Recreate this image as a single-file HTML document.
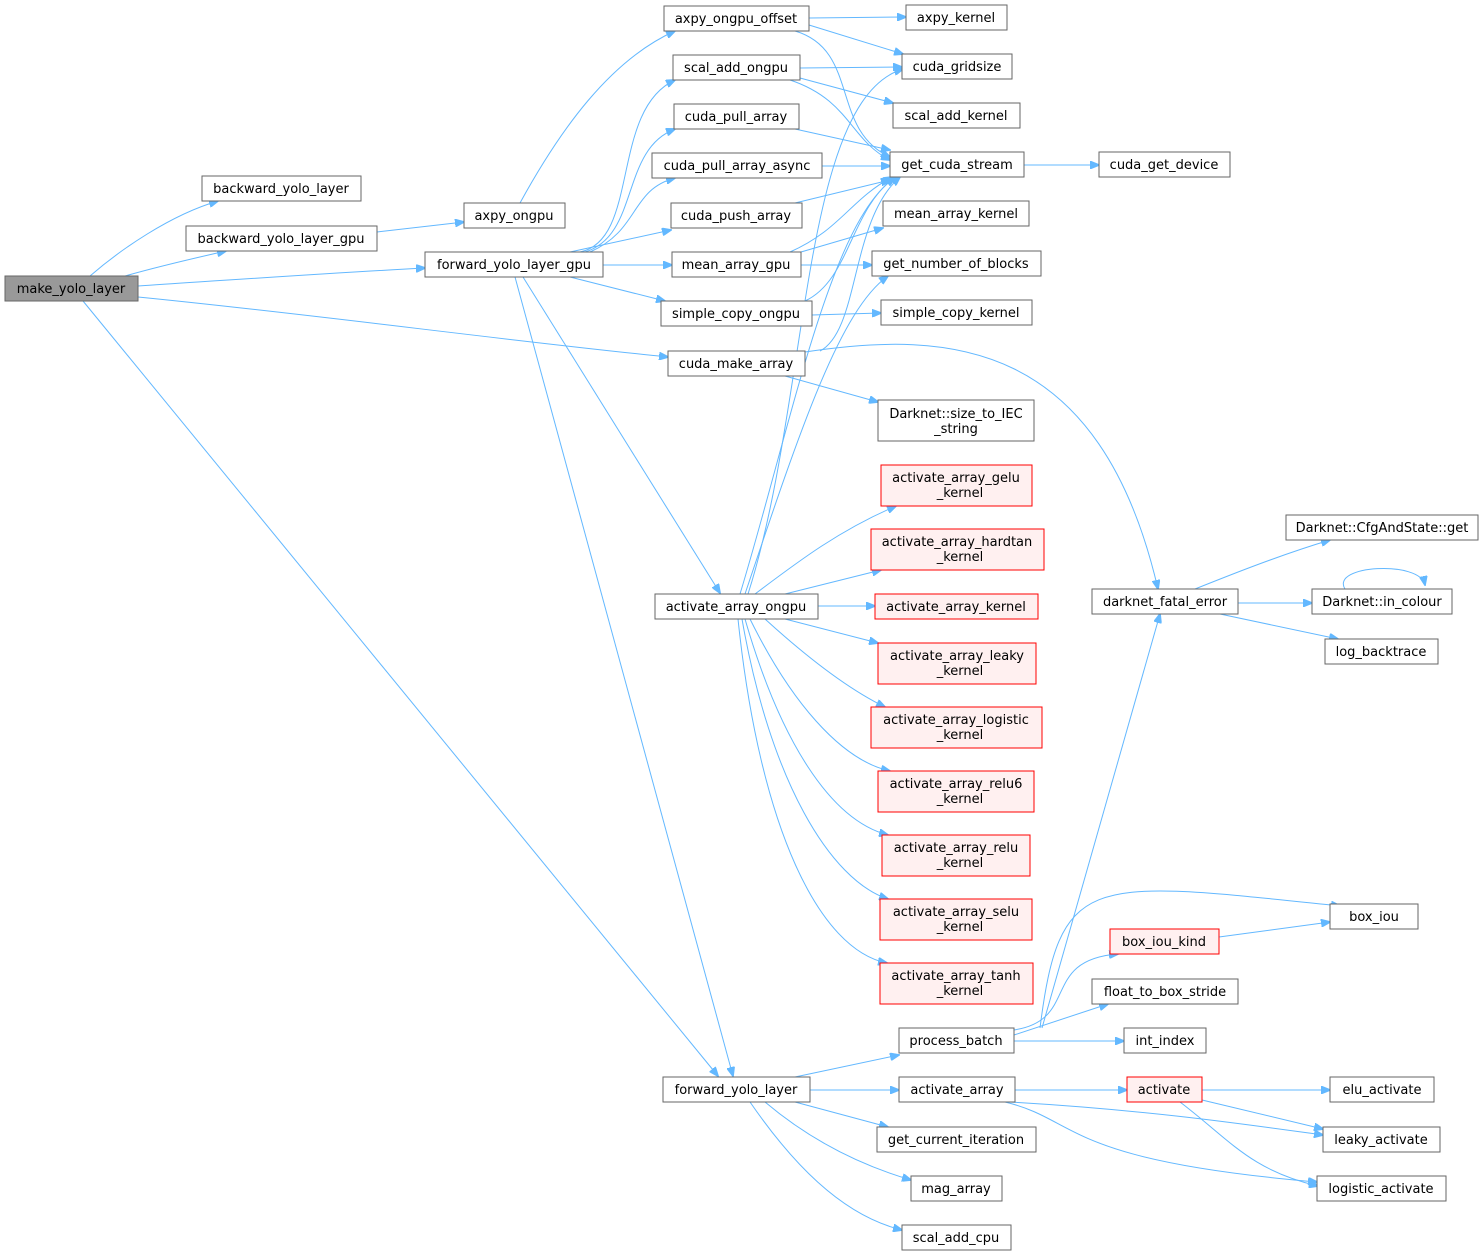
<!DOCTYPE html>
<html><head><meta charset="utf-8"><style>
html,body{margin:0;padding:0;background:#fff}
svg{display:block}
text{font-family:"DejaVu Sans","Liberation Sans",sans-serif;font-size:13px;fill:#000;text-anchor:middle}
.n rect{fill:#fff;stroke:#666;stroke-width:1}
.r rect{fill:#fff0f0;stroke:#f00}
.e{fill:none;stroke:#63b8ff;stroke-width:1;marker-end:url(#a)}
</style></head><body>
<svg width="1484" height="1257" viewBox="0 0 1484 1257" xmlns="http://www.w3.org/2000/svg">
<defs><marker id="a" markerWidth="10" markerHeight="8" refX="9" refY="4" orient="auto" markerUnits="userSpaceOnUse"><path d="M0,0 L10,4 L0,8 z" fill="#63b8ff" stroke="#63b8ff"/></marker></defs>
<g>
<path class="e" d="M90,276 C120,250 170,215 218,201"/>
<path class="e" d="M125,276 C160,266 195,258 226,251"/>
<path class="e" d="M138,286 C230,280 330,273 425,268"/>
<path class="e" d="M138,297 C320,315 500,340 668,357"/>
<path class="e" d="M83,301 L718,1076"/>
<path class="e" d="M377,232 L464,222"/>
<path class="e" d="M520,203 C560,130 610,60 675,31"/>
<path class="e" d="M580,252 C640,240 610,110 675,80"/>
<path class="e" d="M585,252 C640,235 620,150 675,129"/>
<path class="e" d="M590,252 C640,230 630,190 675,178"/>
<path class="e" d="M570,252 L671,230"/>
<path class="e" d="M603,265 L672,265"/>
<path class="e" d="M570,277 L665,301"/>
<path class="e" d="M523,277 L720,593"/>
<path class="e" d="M515,277 L733,1076"/>
<path class="e" d="M809,18 L906,17"/>
<path class="e" d="M809,25 L903,54"/>
<path class="e" d="M795,31 C860,50 830,130 890,157"/>
<path class="e" d="M800,68 L902,67"/>
<path class="e" d="M800,78 L893,103"/>
<path class="e" d="M790,80 C850,100 850,140 890,160"/>
<path class="e" d="M795,129 L890,150"/>
<path class="e" d="M822,166 L890,166"/>
<path class="e" d="M795,203 L890,180"/>
<path class="e" d="M801,252 L883,228"/>
<path class="e" d="M801,265 L872,265"/>
<path class="e" d="M790,252 C840,230 850,200 892,177"/>
<path class="e" d="M812,315 L881,313"/>
<path class="e" d="M805,301 C850,280 850,210 895,177"/>
<path class="e" d="M820,351 C860,330 850,220 900,177"/>
<path class="e" d="M805,352 C950,330 1100,340 1158,589"/>
<path class="e" d="M785,376 L878,402"/>
<path class="e" d="M1024,165 L1099,165"/>
<path class="e" d="M755,594 C800,560 840,530 896,506"/>
<path class="e" d="M785,594 L881,570"/>
<path class="e" d="M818,606 L875,606"/>
<path class="e" d="M785,619 L878,643"/>
<path class="e" d="M765,619 C810,660 850,690 885,707"/>
<path class="e" d="M750,619 C790,700 840,760 890,771"/>
<path class="e" d="M745,619 C780,740 830,820 888,835"/>
<path class="e" d="M742,619 C770,780 830,880 888,899"/>
<path class="e" d="M738,619 C760,830 820,950 887,963"/>
<path class="e" d="M740,594 C790,430 830,220 895,178"/>
<path class="e" d="M745,594 C800,430 840,310 888,276"/>
<path class="e" d="M748,594 C810,400 800,100 903,69"/>
<path class="e" d="M1195,589 C1230,575 1280,555 1330,540"/>
<path class="e" d="M1238,603 L1312,603"/>
<path class="e" d="M1220,614 L1338,639"/>
<path class="e" d="M1345,589 C1330,565 1420,560 1425,585"/>
<path class="e" d="M795,1077 L899,1055"/>
<path class="e" d="M810,1090 L899,1090"/>
<path class="e" d="M795,1102 L888,1127"/>
<path class="e" d="M765,1102 C810,1140 860,1165 911,1180"/>
<path class="e" d="M750,1102 C790,1160 840,1215 902,1230"/>
<path class="e" d="M1014,1030 C1080,1020 1040,960 1118,954"/>
<path class="e" d="M1040,1028 C1060,870 1090,880 1340,906"/>
<path class="e" d="M1014,1035 L1108,1004"/>
<path class="e" d="M1014,1041 L1124,1041"/>
<path class="e" d="M1042,1028 L1160,614"/>
<path class="e" d="M1219,937 L1330,922"/>
<path class="e" d="M1015,1090 L1127,1090"/>
<path class="e" d="M1010,1102 C1150,1110 1250,1125 1323,1135"/>
<path class="e" d="M1005,1102 C1080,1120 1060,1160 1317,1182"/>
<path class="e" d="M1202,1090 L1330,1090"/>
<path class="e" d="M1202,1100 L1323,1129"/>
<path class="e" d="M1180,1102 C1230,1140 1250,1170 1318,1186"/>
</g>
<g class="n">
<rect x="5" y="276" width="133" height="25" style="fill:#999"/><text x="71" y="293">make_yolo_layer</text>
<rect x="202" y="176" width="159" height="25"/><text x="281" y="193">backward_yolo_layer</text>
<rect x="186" y="226" width="191" height="25"/><text x="281" y="243">backward_yolo_layer_gpu</text>
<rect x="425" y="252" width="178" height="25"/><text x="514" y="269">forward_yolo_layer_gpu</text>
<rect x="464" y="203" width="101" height="25"/><text x="514" y="220">axpy_ongpu</text>
<rect x="664" y="6" width="145" height="25"/><text x="736" y="23">axpy_ongpu_offset</text>
<rect x="673" y="55" width="127" height="25"/><text x="736" y="72">scal_add_ongpu</text>
<rect x="674" y="104" width="125" height="25"/><text x="736" y="121">cuda_pull_array</text>
<rect x="652" y="153" width="170" height="25"/><text x="737" y="170">cuda_pull_array_async</text>
<rect x="671" y="203" width="131" height="25"/><text x="736" y="220">cuda_push_array</text>
<rect x="672" y="252" width="129" height="25"/><text x="736" y="269">mean_array_gpu</text>
<rect x="661" y="301" width="151" height="25"/><text x="736" y="318">simple_copy_ongpu</text>
<rect x="668" y="351" width="137" height="25"/><text x="736" y="368">cuda_make_array</text>
<rect x="655" y="594" width="163" height="25"/><text x="736" y="611">activate_array_ongpu</text>
<rect x="663" y="1077" width="147" height="25"/><text x="736" y="1094">forward_yolo_layer</text>
<rect x="906" y="5" width="101" height="25"/><text x="956" y="22">axpy_kernel</text>
<rect x="902" y="54" width="110" height="25"/><text x="957" y="71">cuda_gridsize</text>
<rect x="893" y="103" width="127" height="25"/><text x="956" y="120">scal_add_kernel</text>
<rect x="890" y="152" width="134" height="25"/><text x="957" y="169">get_cuda_stream</text>
<rect x="1099" y="152" width="131" height="25"/><text x="1164" y="169">cuda_get_device</text>
<rect x="883" y="201" width="146" height="25"/><text x="956" y="218">mean_array_kernel</text>
<rect x="872" y="251" width="169" height="25"/><text x="956" y="268">get_number_of_blocks</text>
<rect x="881" y="300" width="151" height="25"/><text x="956" y="317">simple_copy_kernel</text>
<rect x="878" y="400" width="156" height="41"/><text x="956" y="418">Darknet::size_to_IEC</text><text x="956" y="433">_string</text>
<rect x="1092" y="589" width="146" height="25"/><text x="1165" y="606">darknet_fatal_error</text>
<rect x="1286" y="515" width="192" height="25"/><text x="1382" y="532">Darknet::CfgAndState::get</text>
<rect x="1312" y="589" width="140" height="25"/><text x="1382" y="606">Darknet::in_colour</text>
<rect x="1325" y="639" width="113" height="25"/><text x="1381" y="656">log_backtrace</text>
<rect x="1330" y="904" width="88" height="25"/><text x="1374" y="921">box_iou</text>
<rect x="1092" y="979" width="146" height="25"/><text x="1165" y="996">float_to_box_stride</text>
<rect x="1124" y="1028" width="82" height="25"/><text x="1165" y="1045">int_index</text>
<rect x="899" y="1028" width="115" height="25"/><text x="956" y="1045">process_batch</text>
<rect x="899" y="1077" width="116" height="25"/><text x="957" y="1094">activate_array</text>
<rect x="877" y="1127" width="159" height="25"/><text x="956" y="1144">get_current_iteration</text>
<rect x="911" y="1176" width="91" height="25"/><text x="956" y="1193">mag_array</text>
<rect x="902" y="1225" width="109" height="25"/><text x="956" y="1242">scal_add_cpu</text>
<rect x="1330" y="1077" width="104" height="25"/><text x="1382" y="1094">elu_activate</text>
<rect x="1323" y="1127" width="117" height="25"/><text x="1381" y="1144">leaky_activate</text>
<rect x="1317" y="1176" width="129" height="25"/><text x="1381" y="1193">logistic_activate</text>
</g>
<g class="n r">
<rect x="881" y="465" width="151" height="41"/><text x="956" y="482">activate_array_gelu</text><text x="960" y="497">_kernel</text>
<rect x="871" y="529" width="173" height="41"/><text x="957" y="546">activate_array_hardtan</text><text x="960" y="561">_kernel</text>
<rect x="875" y="594" width="163" height="25"/><text x="956" y="611">activate_array_kernel</text>
<rect x="878" y="643" width="158" height="41"/><text x="957" y="660">activate_array_leaky</text><text x="960" y="675">_kernel</text>
<rect x="871" y="707" width="171" height="41"/><text x="956" y="724">activate_array_logistic</text><text x="960" y="739">_kernel</text>
<rect x="878" y="771" width="156" height="41"/><text x="956" y="788">activate_array_relu6</text><text x="960" y="803">_kernel</text>
<rect x="882" y="835" width="148" height="41"/><text x="956" y="852">activate_array_relu</text><text x="960" y="867">_kernel</text>
<rect x="880" y="899" width="152" height="41"/><text x="956" y="916">activate_array_selu</text><text x="960" y="931">_kernel</text>
<rect x="880" y="963" width="153" height="41"/><text x="956" y="980">activate_array_tanh</text><text x="960" y="995">_kernel</text>
<rect x="1110" y="929" width="109" height="25"/><text x="1164" y="946">box_iou_kind</text>
<rect x="1127" y="1077" width="75" height="25"/><text x="1164" y="1094">activate</text>
</g>
</svg>
</body></html>
